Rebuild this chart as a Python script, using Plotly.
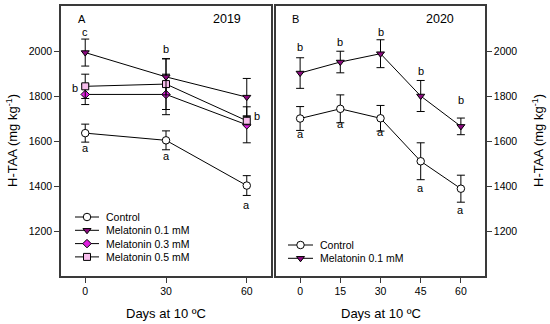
import plotly.graph_objects as go

# ---------------- data ----------------
days_2019 = [0, 30, 60]
ctrl_2019 = [1635, 1603, 1402]
ctrl_2019_sd = [40, 42, 44]
mel01_2019 = [1993, 1885, 1795]
mel01_2019_sd = [60, 80, 83]
mel03_2019 = [1807, 1807, 1672]
mel03_2019_sd = [45, 90, 80]
mel05_2019 = [1843, 1853, 1690]
mel05_2019_sd = [54, 113, 18]

days_2020 = [0, 15, 30, 45, 60]
ctrl_2020 = [1700, 1743, 1701, 1510, 1388]
ctrl_2020_sd = [53, 62, 57, 82, 60]
mel01_2020 = [1902, 1951, 1988, 1800, 1665]
mel01_2020_sd = [68, 48, 62, 69, 37]

# significance letters: (x, y, text)
letters_2019 = [(0, 2083, "c"), (30, 2010, "b"), (-3.8, 1834, "b"), (63.8, 1712, "b"),
                (0, 1568, "a"), (30, 1534, "a"), (60, 1314, "a")]
letters_2020 = [(0, 2016, "b"), (15, 2039, "b"), (30, 2083, "b"), (45, 1911, "b"), (60, 1781, "b"),
                (0, 1630, "a"), (15, 1674, "a"), (30, 1640, "a"), (45, 1390, "a"), (60, 1292, "a")]

y_ticks = [1200, 1400, 1600, 1800, 2000]
x_ticks_2019 = [0, 30, 60]
x_ticks_2020 = [0, 15, 30, 45, 60]

# ---------------- style ----------------
W, H = 550, 324
FONT = "Liberation Sans, Arial, sans-serif"
BORDER = "#3a3a3a"

styles = {
    "Control": dict(symbol="circle", color="white", size=7.5),
    "Melatonin 0.1 mM": dict(symbol="triangle-down", color="#8a0a7e", size=7),
    "Melatonin 0.3 mM": dict(symbol="diamond", color="#e020e0", size=6.5),
    "Melatonin 0.5 mM": dict(symbol="square", color="#f7bdec", size=7),
}

fig = go.Figure()


def add_series(x, y, sd, name, xa, ya):
    st = styles[name]
    fig.add_trace(go.Scatter(
        x=x, y=y, mode="lines+markers", name=name, showlegend=False,
        xaxis=xa, yaxis=ya,
        line=dict(color="black", width=1),
        marker=dict(symbol=st["symbol"], size=st["size"], color=st["color"],
                    line=dict(color="black", width=1)),
        error_y=dict(type="data", array=sd, visible=True, color="black",
                     thickness=1, width=4),
    ))


# draw order: background to foreground
add_series(days_2019, ctrl_2019, ctrl_2019_sd, "Control", "x", "y")
add_series(days_2019, mel03_2019, mel03_2019_sd, "Melatonin 0.3 mM", "x", "y")
add_series(days_2019, mel05_2019, mel05_2019_sd, "Melatonin 0.5 mM", "x", "y")
add_series(days_2019, mel01_2019, mel01_2019_sd, "Melatonin 0.1 mM", "x", "y")

add_series(days_2020, ctrl_2020, ctrl_2020_sd, "Control", "x2", "y2")
add_series(days_2020, mel01_2020, mel01_2020_sd, "Melatonin 0.1 mM", "x2", "y2")

# ---------------- layout ----------------
def px_x(p):
    return p / W


def px_y(p):
    return 1 - p / H


dom_y = [px_y(276), px_y(6)]
axis_common = dict(showline=True, linecolor=BORDER, linewidth=1.5, mirror=True,
                   ticks="outside", ticklen=5, tickcolor=BORDER, tickwidth=1,
                   showgrid=False, zeroline=False,
                   tickfont=dict(family=FONT, size=10.5, color="black"))

fig.update_layout(
    width=W, height=H,
    margin=dict(l=0, r=0, t=0, b=0),
    paper_bgcolor="white", plot_bgcolor="rgba(0,0,0,0)",
    showlegend=False,
    xaxis=dict(domain=[px_x(61), px_x(271)], range=[-9, 69], tickvals=x_ticks_2019,
               anchor="y", **axis_common),
    yaxis=dict(domain=dom_y, range=[1000, 2200], tickvals=y_ticks, anchor="x",
               side="left", **axis_common),
    xaxis2=dict(domain=[px_x(276), px_x(485)], range=[-9, 69], tickvals=x_ticks_2020,
                anchor="y2", **axis_common),
    yaxis2=dict(domain=dom_y, range=[1000, 2200], tickvals=y_ticks, anchor="x2",
                side="right", **axis_common),
    xaxis3=dict(domain=[0, 1], range=[0, W], visible=False, anchor="y3", fixedrange=True),
    yaxis3=dict(domain=[0, 1], range=[H, 0], visible=False, anchor="x3", fixedrange=True),
)

annotations = []
letter_font = dict(family=FONT, size=11, color="black")
for xx, yy, t in letters_2019:
    annotations.append(dict(x=xx, y=yy, xref="x", yref="y", text=t, showarrow=False,
                            xanchor="center", yanchor="middle", font=letter_font))
for xx, yy, t in letters_2020:
    annotations.append(dict(x=xx, y=yy, xref="x2", yref="y2", text=t, showarrow=False,
                            xanchor="center", yanchor="middle", font=letter_font))

# panel labels
for txt, xp, size in [("A", 82, 11), ("2019", 227, 12.5), ("B", 295, 11), ("2020", 440, 12.5)]:
    annotations.append(dict(x=px_x(xp), y=px_y(19), xref="paper", yref="paper", text=txt,
                            xanchor="center", yanchor="middle",
                            showarrow=False, font=dict(family=FONT, size=size, color="black")))

# axis titles
ytitle = "H-TAA (mg kg<sup>-1</sup>)"
for xp in (12, 538):
    annotations.append(dict(x=px_x(xp), y=px_y(141), xref="paper", yref="paper", text=ytitle,
                            textangle=-90, showarrow=False, xanchor="center", yanchor="middle",
                            font=dict(family=FONT, size=13, color="black")))
for xp in (166, 381):
    annotations.append(dict(x=px_x(xp), y=px_y(313), xref="paper", yref="paper",
                            text="Days at 10 ºC", showarrow=False,
                            xanchor="center", yanchor="middle",
                            font=dict(family=FONT, size=13, color="black")))

# ---------------- manual legends ----------------
legend_left = dict(names=["Control", "Melatonin 0.1 mM", "Melatonin 0.3 mM", "Melatonin 0.5 mM"],
                   x0=75, x1=99, text_x=104, y0=217, dy=13.3)
legend_right = dict(names=["Control", "Melatonin 0.1 mM"],
                    x0=288, x1=313, text_x=318, y0=245, dy=13.3)

for lg in (legend_left, legend_right):
    for i, name in enumerate(lg["names"]):
        yy = lg["y0"] + i * lg["dy"]
        st = styles[name]
        xm = (lg["x0"] + lg["x1"]) / 2
        fig.add_trace(go.Scatter(
            x=[lg["x0"], xm, lg["x1"]], y=[yy, yy, yy], mode="lines+markers",
            xaxis="x3", yaxis="y3", showlegend=False, hoverinfo="skip",
            line=dict(color="black", width=1),
            marker=dict(symbol=st["symbol"], size=[0, st["size"], 0], color=st["color"],
                        line=dict(color="black", width=[0, 1, 0]),
                        opacity=[0, 1, 0]),
        ))
        annotations.append(dict(x=px_x(lg["text_x"]), y=px_y(yy), xref="paper", yref="paper",
                                text=name, showarrow=False, xanchor="left", yanchor="middle",
                                font=dict(family=FONT, size=10.5, color="black")))

fig.update_layout(annotations=annotations)

fig.write_html("out.html",
               config={"displayModeBar": False},
               post_script="document.body.style.margin='0';document.body.style.overflow='hidden';")
